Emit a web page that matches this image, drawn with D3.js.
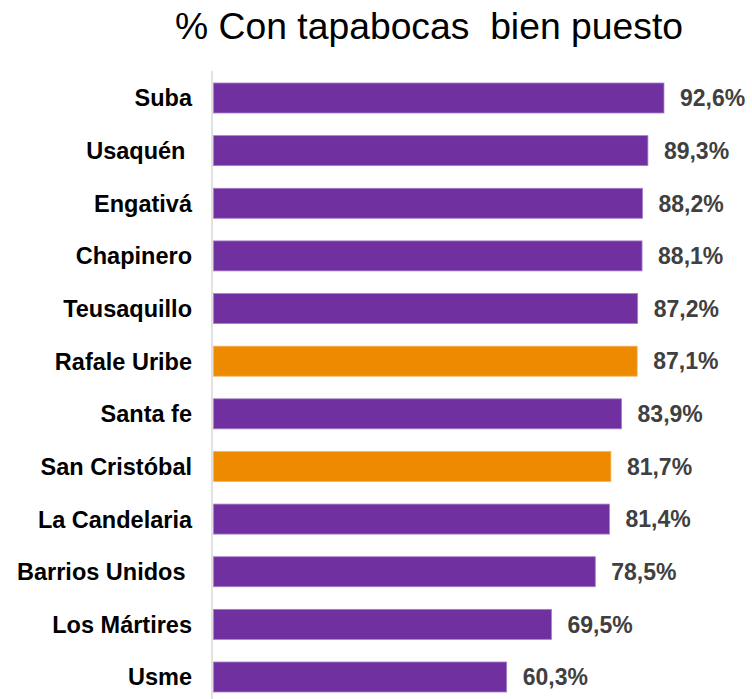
<!DOCTYPE html>
<html>
<head>
<meta charset="utf-8">
<script src="https://cdn.jsdelivr.net/npm/d3@7"></script>
<style>
  html, body { margin: 0; padding: 0; background: #fff; }
  svg { display: block; }
  text { font-family: Arial, "Liberation Sans", sans-serif; white-space: pre; }
</style>
</head>
<body>
<svg id="chart" width="752" height="699"></svg>
<script>
const title = "% Con tapabocas  bien puesto";
const categories = ["Suba", "Usaquén ", "Engativá", "Chapinero", "Teusaquillo", "Rafale Uribe",
  "Santa fe", "San Cristóbal", "La Candelaria", "Barrios Unidos ", "Los Mártires", "Usme"];
const values = [92.6, 89.3, 88.2, 88.1, 87.2, 87.1, 83.9, 81.7, 81.4, 78.5, 69.5, 60.3];
const highlighted = ["Rafale Uribe", "San Cristóbal"];

const svg = d3.select("#chart");
const W = 752, H = 699;

const x = d3.scaleLinear().domain([0, 100]).range([213, 213 + 487]);
const y = d3.scaleBand().domain(categories).range([71.68, 703.32])
  .paddingInner(0.43).paddingOuter(0.215);

const data = categories.map((c, i) => ({ c, v: values[i] }));

svg.append("text")
  .attr("x", 429).attr("y", 39)
  .attr("text-anchor", "middle")
  .attr("font-size", 37.3)
  .attr("fill", "#000")
  .text(title);

svg.append("line")
  .attr("x1", 212).attr("x2", 212)
  .attr("y1", 71).attr("y2", H)
  .attr("stroke", "#d9d9d9").attr("stroke-width", 1.5);

svg.selectAll("rect.bar").data(data).enter().append("rect")
  .attr("class", "bar")
  .attr("x", x(0) + 0.5)
  .attr("y", d => y(d.c))
  .attr("width", d => x(d.v) - x(0) - 0.5)
  .attr("height", y.bandwidth())
  .attr("fill", d => highlighted.includes(d.c) ? "#EE8A00" : "#7030A0")
  .attr("stroke", d => highlighted.includes(d.c) ? "#F5B25A" : "#A77FCB")
  .attr("stroke-width", 0.8);

svg.selectAll("text.cat").data(data).enter().append("text")
  .attr("class", "cat")
  .attr("x", 192)
  .attr("y", d => y(d.c) + y.bandwidth() / 2)
  .attr("dy", "0.36em")
  .attr("text-anchor", "end")
  .attr("font-size", 23.5)
  .attr("font-weight", "bold")
  .attr("fill", "#000")
  .text(d => d.c);

svg.selectAll("text.val").data(data).enter().append("text")
  .attr("class", "val")
  .attr("x", d => x(d.v) + 16)
  .attr("y", d => y(d.c) + y.bandwidth() / 2)
  .attr("dy", "0.36em")
  .attr("font-size", 23)
  .attr("font-weight", "bold")
  .attr("fill", "#404040")
  .text(d => d3.format(".1f")(d.v).replace(".", ",") + "%");
</script>
</body>
</html>
